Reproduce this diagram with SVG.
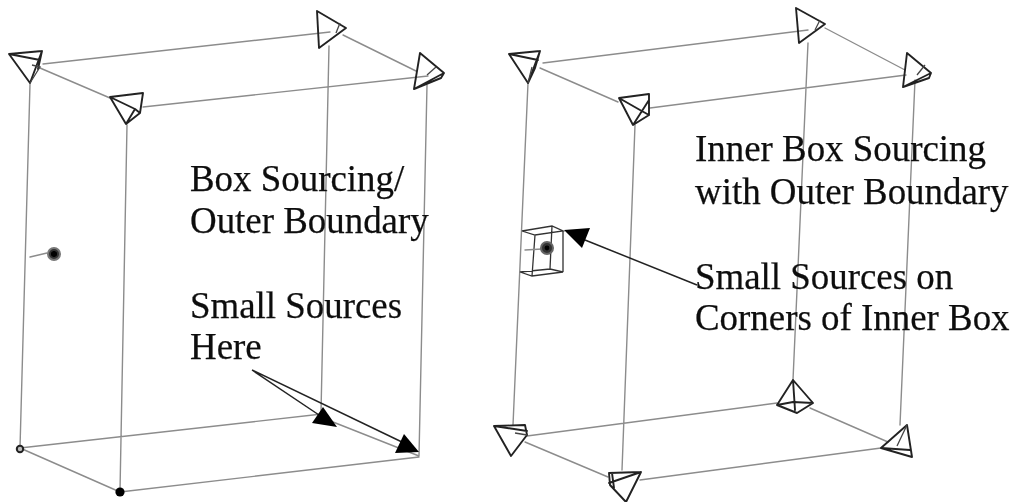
<svg xmlns="http://www.w3.org/2000/svg" width="1018" height="502" viewBox="0 0 1018 502">
<style>
.e{fill:none;stroke:#8c8c8c;stroke-width:1.4;stroke-linecap:round}
.t{fill:none;stroke:#222;stroke-width:1.9;stroke-linejoin:round;stroke-linecap:round}
.i{fill:none;stroke:#444;stroke-width:1.3}
.b{fill:none;stroke:#333;stroke-width:1.3}
.a{fill:none;stroke:#222;stroke-width:1.5}
.h{fill:#000;stroke:none}
.l{font-family:"Liberation Serif","Times New Roman",serif;font-size:36.9px;fill:#111;stroke:#111;stroke-width:.25}
</style>
<defs><filter id="f" x="-2%" y="-2%" width="104%" height="104%"><feGaussianBlur stdDeviation="0.45"/></filter></defs>
<rect width="1018" height="502" fill="#fff"/>
<g filter="url(#f)">
<g id="connectors">
<path class="e" d="M43 64L330 32M143 107L428 76M40 68L110 98M343 35L416 71M30 84L20 448M127 125L120 491M329 46L321 412M427 85L419 456M20 448L322 414M20 448L120 492M120 492L419 457M333 422L419 456"/>
<path class="e" d="M543 63L808 30M650 108L906 75M540 68L618 102M825 28L905 70M528 83L513 425M635 125L622 470M808 43L793 380M915 80L900 425M527 436L777 403M525 442L608 477M640 480L881 448M810 408L888 442"/>
<path class="e" d="M30 257L47 253"/>
<path class="a" d="M252 370L322 417M252 370L404 443M585 240L697 285"/>
<path class="h" d="M323 407L312 423L337 427Z"/>
<path class="h" d="M404 434L395 453L419 452Z"/>
<path class="h" d="M564 230L590 228L582 248Z"/>
</g>
<g id="left-box">
<g id="l-top-back-left"><path class="t" d="M9 54L42 51L30 83ZM9 54L40 60M42 51L38 69"/><path class="i" d="M32 65L40 67L30 83"/></g>
<g id="l-top-front-left"><path class="t" d="M110 97L143 93L140 113L126 124ZM110 97L135 109L140 113M135 109L126 124"/></g>
<g id="l-top-back-right"><path class="t" d="M317 11L346 28L319 48Z"/><path class="i" d="M340 23L336 33"/></g>
<g id="l-top-front-right"><path class="t" d="M420 53L444 73L414 89ZM441 78L444 73M414 89L441 78"/><path class="i" d="M436 67L427 75"/></g>
<g id="l-bottom-back-left"><circle cx="20" cy="449" r="3.2" fill="#bbb" stroke="#222" stroke-width="2"/></g>
<g id="l-bottom-front-left"><circle cx="120" cy="492" r="4.6" fill="#000"/></g>
<g id="l-source"><circle cx="54" cy="254" r="6" fill="#333" stroke="#777" stroke-width="2"/><circle cx="54" cy="254" r="3" fill="#000"/></g>
</g>
<g id="right-box">
<g id="r-top-back-left"><path class="t" d="M509 54L540 51L528 83ZM509 54L538 60M540 51L535 68L528 83"/><path class="i" d="M532 67L528 83"/></g>
<g id="r-top-front-left"><path class="t" d="M619 98L649 94L649 115L633 125ZM619 98L640 110L649 115M649 100L633 125"/></g>
<g id="r-top-back-right"><path class="t" d="M796 8L825 24L799 43Z"/><path class="i" d="M820 20L815 30"/></g>
<g id="r-top-front-right"><path class="t" d="M907 53L931 73L903 87ZM929 78L931 73M903 87L929 78"/><path class="i" d="M925 65L917 75"/></g>
<g id="r-bottom-back-left"><path class="t" d="M494 426L525 425L527 435L511 456ZM494 426L527 431"/><path class="i" d="M515 433L527 435"/></g>
<g id="r-bottom-front-left"><path class="t" d="M609 473L641 472L626 502L610 485ZM609 483L641 472M612 473L614 488"/></g>
<g id="r-bottom-back-right"><path class="t" d="M793 380L777 405L797 413L813 403ZM793 380L795 410M777 405L793 402L813 403"/></g>
<g id="r-bottom-front-right"><path class="t" d="M907 425L881 448L912 457ZM881 448L910 450"/><path class="i" d="M897 446L907 425"/></g>
<g id="r-inner-box"><path class="b" d="M522 231L552 226L563 231L535 235ZM520 272L550 269L563 272L532 276ZM535 235L532 276M552 226L550 269M563 231L563 272"/></g>
<g id="r-source"><path class="e" d="M525 250L542 249"/><circle cx="547" cy="248" r="6" fill="#333" stroke="#666" stroke-width="2"/><circle cx="547" cy="248" r="2.4" fill="#000"/></g>
</g>
<g id="labels">
<text class="l" x="190" y="191">Box Sourcing/</text>
<text class="l" x="190" y="233">Outer Boundary</text>
<text class="l" x="190" y="318">Small Sources</text>
<text class="l" x="190" y="359">Here</text>
<text class="l" x="695" y="161">Inner Box Sourcing</text>
<text class="l" x="695" y="204">with Outer Boundary</text>
<text class="l" x="695" y="289">Small Sources on</text>
<text class="l" x="695" y="330">Corners of Inner Box</text>
</g>
</g>
</svg>
